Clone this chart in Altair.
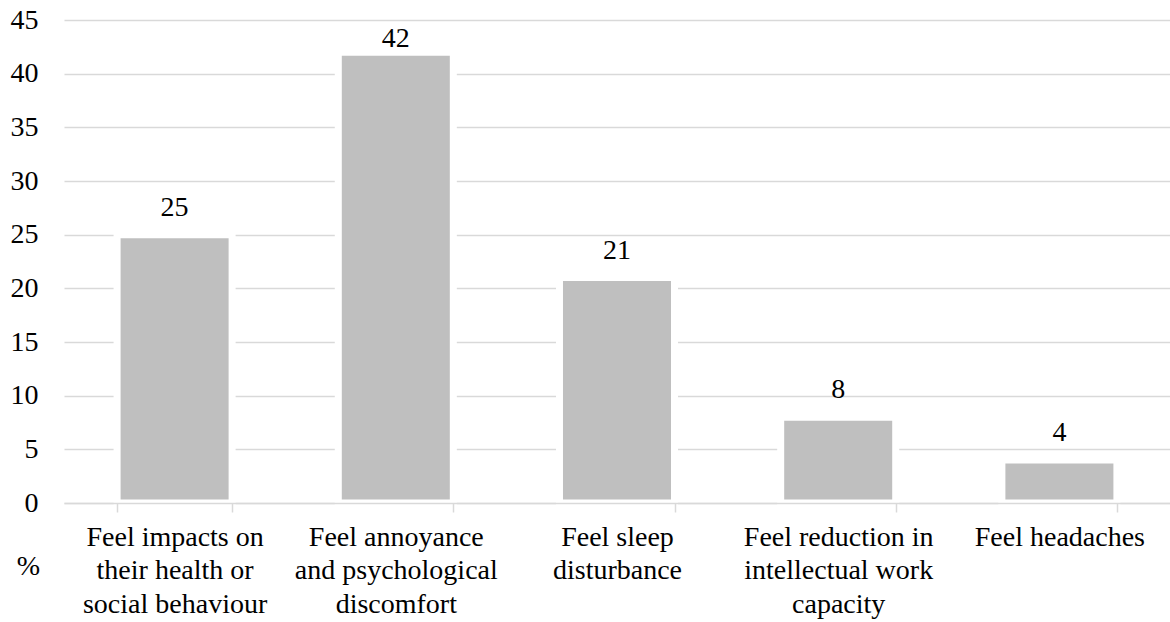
import altair as alt
import pandas as pd

# Share of respondents reporting each noise-related effect (%)
categories = [
    "Feel impacts on|their health or|social behaviour",
    "Feel annoyance|and psychological|discomfort",
    "Feel sleep|disturbance",
    "Feel reduction in|intellectual work|capacity",
    "Feel headaches",
]
values = [25, 42, 21, 8, 4]
y_ticks = [0, 5, 10, 15, 20, 25, 30, 35, 40, 45]

df = pd.DataFrame({"category": categories, "value": values})

FONT = "Liberation Serif"
GRID = "#d9d9d9"

x_enc = alt.X(
    "category:N",
    sort=categories,
    scale=alt.Scale(paddingInner=0.48, paddingOuter=0.24),
    axis=alt.Axis(
        title="%",
        titleX=-36,
        titleY=63,
        titleAngle=0,
        titleAlign="center",
        titleBaseline="middle",
        titleFont=FONT,
        titleFontSize=28,
        titleFontWeight="normal",
        titleColor="black",
        labelExpr="split(datum.label, '|')",
        labelFont=FONT,
        labelFontSize=28,
        labelColor="black",
        labelLineHeight=33.5,
        labelAngle=0,
        labelPadding=11,
        labelLimit=400,
        tickBand="extent",
        tickColor=GRID,
        tickWidth=1.5,
        tickSize=9,
        domainColor=GRID,
        domainWidth=1.5,
        zindex=1,
    ),
)

y_scale = alt.Scale(domain=[0, 45], nice=False)

bars = alt.Chart(df).mark_bar(
    color="#bfbfbf", stroke="white", strokeWidth=7
).encode(
    x=x_enc,
    y=alt.Y(
        "value:Q",
        scale=y_scale,
        axis=alt.Axis(
            title=None,
            values=y_ticks,
            labelFont=FONT,
            labelFontSize=28,
            labelColor="black",
            labelPadding=26,
            ticks=False,
            domain=False,
            gridColor=GRID,
            gridWidth=1.5,
        ),
    ),
)

# value labels sit above each bar, kept inside the plot area near the top
labels = alt.Chart(df).transform_calculate(
    label_pos="min(datum.value, 40.7)"
).mark_text(
    font=FONT, fontSize=28, color="black", baseline="alphabetic", dy=-19
).encode(
    x=alt.X("category:N", sort=categories),
    y=alt.Y("label_pos:Q", scale=y_scale),
    text=alt.Text("value:Q"),
)

chart = (
    alt.layer(bars, labels)
    .properties(
        width=1106,
        height=483,
        padding={"left": 64, "top": 20, "right": 0, "bottom": 119},
        autosize=alt.AutoSizeParams(type="none"),
        background="white",
    )
    .configure(font=FONT)
    .configure_view(stroke=None)
)

chart.save("out.html", embed_options={"renderer": "svg", "actions": False})
